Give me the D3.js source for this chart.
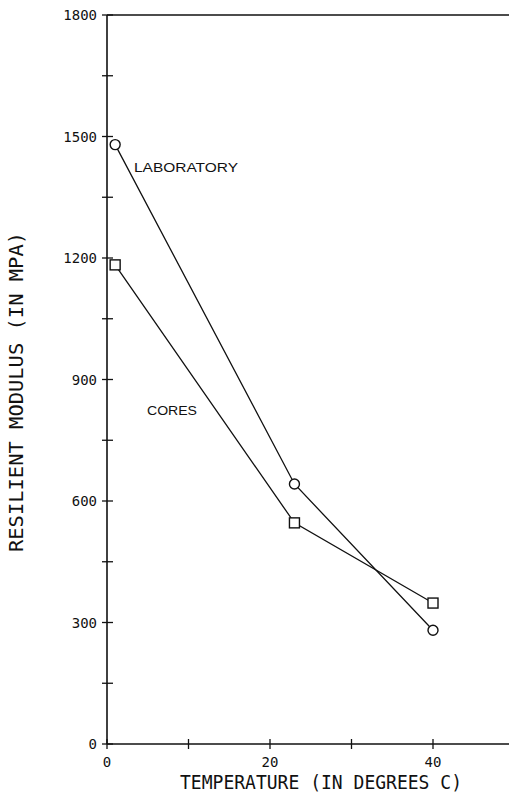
<!DOCTYPE html>
<html lang="en">
<head>
<meta charset="utf-8">
<title>Resilient Modulus vs Temperature</title>
<script src="https://d3js.org/d3.v7.min.js"></script>
<style>
  body { margin: 0; background: #fff; }
  .plotter { font-family: "DejaVu Sans Mono", "Liberation Mono", monospace; fill: #111; }
  .lbl { font-family: "Liberation Sans", Arial, sans-serif; fill: #111; }
</style>
</head>
<body>
<div id="chart"></div>
<script>
// data
var temps = [1, 23, 40];
var laboratory = [1480, 642, 281];
var cores = [1183, 546, 348];
var xTickLabels = [0, 20, 40];
var yTickLabels = [0, 300, 600, 900, 1200, 1500, 1800];

var W = 509, H = 798;
var svg = d3.select("#chart").append("svg")
  .attr("width", W).attr("height", H);

var x = d3.scaleLinear().domain([0, 50]).range([107, 514.5]);
var y = d3.scaleLinear().domain([0, 1800]).range([744, 15]);

var ink = "#111";

// axis lines
svg.append("line").attr("x1", x(0)).attr("x2", W).attr("y1", y(0)).attr("y2", y(0))
  .attr("stroke", ink).attr("stroke-width", 1.4);
svg.append("line").attr("x1", x(0)).attr("x2", W).attr("y1", y(1800)).attr("y2", y(1800))
  .attr("stroke", ink).attr("stroke-width", 1.4);
svg.append("line").attr("x1", x(0)).attr("x2", x(0)).attr("y1", y(0)).attr("y2", y(1800))
  .attr("stroke", ink).attr("stroke-width", 1.6);

// tick marks (crossing the axis)
svg.selectAll(".xt").data(d3.range(0, 50, 10)).enter().append("line")
  .attr("x1", function(d) { return x(d); }).attr("x2", function(d) { return x(d); })
  .attr("y1", y(0) - 5).attr("y2", y(0) + 5)
  .attr("stroke", ink).attr("stroke-width", 1.3);
svg.selectAll(".yt").data(d3.range(0, 1801, 150)).enter().append("line")
  .attr("x1", x(0) - 5).attr("x2", x(0) + 6)
  .attr("y1", function(d) { return y(d); }).attr("y2", function(d) { return y(d); })
  .attr("stroke", ink).attr("stroke-width", 1.3);

// tick labels
svg.selectAll(".xl").data(xTickLabels).enter().append("text")
  .attr("class", "plotter")
  .attr("x", function(d) { return x(d); }).attr("y", y(0) + 23)
  .attr("text-anchor", "middle").style("font-size", "14px")
  .text(function(d) { return d; });
svg.selectAll(".yl").data(yTickLabels).enter().append("text")
  .attr("class", "plotter")
  .attr("x", 97).attr("y", function(d) { return y(d) + 5; })
  .attr("text-anchor", "end").style("font-size", "14px")
  .text(function(d) { return d; });

// axis titles
svg.append("text").attr("class", "plotter")
  .attr("x", 321).attr("y", 789)
  .attr("text-anchor", "middle").style("font-size", "19px")
  .attr("textLength", 282).attr("lengthAdjust", "spacingAndGlyphs")
  .text("TEMPERATURE (IN DEGREES C)");
svg.append("text").attr("class", "plotter")
  .attr("transform", "translate(23,392) rotate(-90)")
  .attr("text-anchor", "middle").style("font-size", "19px")
  .attr("textLength", 320).attr("lengthAdjust", "spacingAndGlyphs")
  .text("RESILIENT MODULUS (IN MPA)");

// lines
var line = d3.line()
  .x(function(d) { return x(d[0]); })
  .y(function(d) { return y(d[1]); });

var labPts = d3.zip(temps, laboratory);
var corePts = d3.zip(temps, cores);

svg.append("path").datum(labPts).attr("d", line)
  .attr("fill", "none").attr("stroke", ink).attr("stroke-width", 1.3);
svg.append("path").datum(corePts).attr("d", line)
  .attr("fill", "none").attr("stroke", ink).attr("stroke-width", 1.3);

// markers
svg.selectAll(".lab").data(labPts).enter().append("circle")
  .attr("cx", function(d) { return x(d[0]); })
  .attr("cy", function(d) { return y(d[1]); })
  .attr("r", 5).attr("fill", "#fff").attr("stroke", ink).attr("stroke-width", 1.4);
svg.selectAll(".core").data(corePts).enter().append("rect")
  .attr("x", function(d) { return x(d[0]) - 5; })
  .attr("y", function(d) { return y(d[1]) - 5; })
  .attr("width", 10).attr("height", 10)
  .attr("fill", "#fff").attr("stroke", ink).attr("stroke-width", 1.4);

// series labels
svg.append("text").attr("class", "lbl")
  .attr("x", 134).attr("y", 172).style("font-size", "13px")
  .attr("textLength", 104).attr("lengthAdjust", "spacingAndGlyphs")
  .text("LABORATORY");
svg.append("text").attr("class", "lbl")
  .attr("x", 147).attr("y", 415).style("font-size", "13px")
  .attr("textLength", 50).attr("lengthAdjust", "spacingAndGlyphs")
  .text("CORES");
</script>
</body>
</html>
